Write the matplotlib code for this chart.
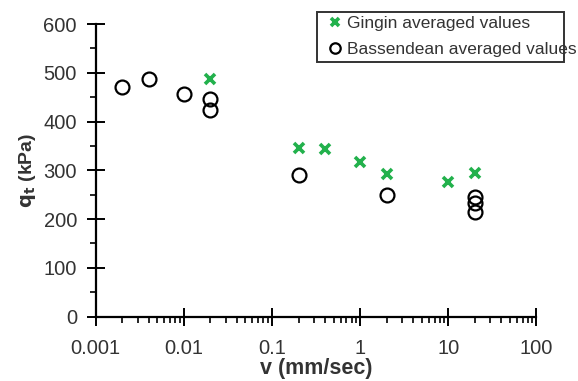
import matplotlib
matplotlib.use("Agg")
import matplotlib.pyplot as plt
from matplotlib.patches import Rectangle
from matplotlib.ticker import LogLocator, FixedLocator, NullFormatter

plt.rcParams['font.family'] = ['Liberation Sans', 'DejaVu Sans']

# Gingin averaged values
gingin_v = [0.02, 0.2, 0.4, 1.0, 2.0, 10.0, 20.0]
gingin_q = [488, 346, 344, 318, 293, 275, 295]

# Bassendean averaged values
bass_v = [0.002, 0.004, 0.01, 0.02, 0.02, 0.2, 2.0, 20.0, 20.0, 20.0]
bass_q = [471, 487, 457, 446, 424, 291, 250, 245, 233, 215]

x_ticks = [0.001, 0.01, 0.1, 1, 10, 100]
x_labels = ['0.001', '0.01', '0.1', '1', '10', '100']
y_ticks = [0, 100, 200, 300, 400, 500, 600]

green = '#22b14c'
grey = '#333333'

fig = plt.figure(figsize=(5.78, 3.81), dpi=100)
ax = fig.add_axes([0.1656, 0.169, 0.7624, 0.768])

ax.plot(gingin_v, gingin_q, linestyle='none', marker='x', markersize=7,
        markeredgewidth=2.6, color=green, label='Gingin averaged values')
ax.plot(bass_v, bass_q, linestyle='none', marker='o', markersize=10,
        markerfacecolor='none', markeredgecolor='black', markeredgewidth=1.6,
        label='Bassendean averaged values')

ax.set_xscale('log')
ax.set_xlim(0.001, 100)
ax.set_ylim(0, 600)

ax.set_xticks(x_ticks)
ax.set_xticklabels(x_labels)
ax.xaxis.set_minor_locator(LogLocator(base=10, subs=range(2, 10), numticks=20))
ax.xaxis.set_minor_formatter(NullFormatter())
ax.set_yticks(y_ticks)
ax.yaxis.set_minor_locator(FixedLocator([50, 150, 250, 350, 450, 550]))

for s in ['top', 'right']:
    ax.spines[s].set_visible(False)
for s in ['left', 'bottom']:
    ax.spines[s].set_linewidth(1.6)
    ax.spines[s].set_color('black')

ax.tick_params(which='major', direction='inout', length=13, width=1.4,
               labelsize=14.5, labelcolor=grey)
ax.tick_params(which='minor', direction='out', length=4.5, width=1.2)
ax.tick_params(axis='y', which='major', pad=7)
ax.tick_params(axis='x', which='major', pad=9.5)

ax.set_xlabel('v (mm/sec)', fontsize=15.5, fontweight='bold', color=grey, labelpad=0)
ax.set_ylabel(r'$\mathbf{q_t}$ (kPa)', fontsize=14, fontweight='bold', color=grey, labelpad=4)

leg = ax.legend(loc='upper left', bbox_to_anchor=(330 / 578, 1 - 16 / 381),
                bbox_transform=fig.transFigure, frameon=False, fontsize=12.5,
                markerscale=0.75, handlelength=0.6, handletextpad=0.4,
                borderpad=0.0, labelspacing=0.6, borderaxespad=0)
for t in leg.get_texts():
    t.set_color(grey)

fig.patches.append(Rectangle((317 / 578, 1 - 62 / 381), 247 / 578, 50 / 381,
                             transform=fig.transFigure, fill=False,
                             edgecolor='#333333', linewidth=1.4))

fig.savefig('out.png', dpi=100)
